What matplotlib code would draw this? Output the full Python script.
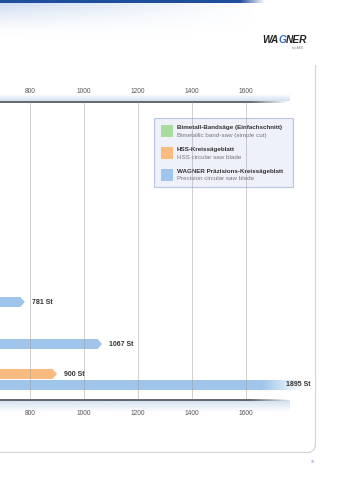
import numpy as np
import matplotlib.pyplot as plt
from matplotlib.patches import FancyBboxPatch, Rectangle
from matplotlib.collections import LineCollection

plt.rcParams['font.family'] = ['Liberation Sans', 'DejaVu Sans']

# Werte (Stück), sichtbarer Ausschnitt
bar_values = [781, 1067, 900, 1895]
bar_labels = ['781 St', '1067 St', '900 St', '1895 St']
bar_kinds = ['wagner', 'wagner', 'hss', 'wagner']
ticks = [800, 1000, 1200, 1400, 1600]

legend_de = ['Bimetall-Bandsäge (Einfachschnitt)', 'HSS-Kreissägeblatt',
             'WAGNER Präzisions-Kreissägeblatt']
legend_en = ['Bimetallic band-saw (simple cut)', 'HSS circular saw blade',
             'Precision circular saw blade']

colors = {'bimetall': '#a9dc9f', 'hss': '#f9bc80', 'wagner': '#9fc6ea'}
legend_colors = [colors['bimetall'], colors['hss'], colors['wagner']]

W, H = 339, 480
fig = plt.figure(figsize=(W / 100, H / 100), dpi=100)

# Hintergrund-Achse in Pixelkoordinaten
bg = fig.add_axes([0, 0, 1, 1])
bg.axis('off')


def rgb(h):
    h = h.lstrip('#')
    return [int(h[i:i + 2], 16) / 255 for i in (0, 2, 4)]


def hgrad(ax, x0, x1, y0, y1, col, a0, a1, z=1, vertical=False):
    n = 256
    a = np.linspace(a0, a1, n)
    if vertical:
        img = np.zeros((n, 1, 4))
        img[..., 3] = a[:, None]
    else:
        img = np.zeros((1, n, 4))
        img[..., 3] = a
    img[..., :3] = col
    ax.imshow(img, extent=[x0, x1, y1, y0], aspect='auto', zorder=z,
              interpolation='bilinear')


def fade_line(ax, x0, xs, x1, y, col, lw, z=3):
    # Linie bis xs voll, danach ausblenden
    xx = np.linspace(x0, x1, 120)
    segs = [[(xx[i], y), (xx[i + 1], y)] for i in range(len(xx) - 1)]
    mid = (xx[:-1] + xx[1:]) / 2
    alpha = np.clip((x1 - mid) / (x1 - xs), 0, 1)
    cols = [(*rgb(col), a) for a in alpha]
    ax.add_collection(LineCollection(segs, colors=cols, linewidths=lw,
                                     zorder=z, capstyle='butt'))


# Kopfband
n = 200
img = np.zeros((n, n, 4))
img[..., :3] = rgb('#c9d9ef')
xx, yy = np.meshgrid(np.linspace(0, 1, n), np.linspace(0, 1, n))
img[..., 3] = np.clip(1 - yy, 0, 1) ** 1.5 * np.clip(1 - xx * 1.1, 0, 1) * 0.9
bg.imshow(img, extent=[0, 280, 36, 3], aspect='auto', zorder=1)
bg.add_patch(Rectangle((0, 0), 240, 3, color='#1f4f9c', lw=0, zorder=2))
hgrad(bg, 240, 265, 0, 3, rgb('#1f4f9c'), 1, 0, z=2)

# Logo
t1 = bg.text(262, 43, 'WA', fontsize=7.3, fontweight='bold', style='italic',
             color='#222222', ha='left', va='baseline')
t2 = bg.annotate('G', xy=(1, 0), xycoords=t1, fontsize=7.3,
                 fontweight='bold', style='italic', color='#2a6cc8',
                 ha='left', va='bottom')
bg.annotate('NER', xy=(1, 0), xycoords=t2, fontsize=7.3, fontweight='bold',
            style='italic', color='#222222', ha='left', va='bottom')
bg.text(304, 48.5, 'by AKE', fontsize=2.5, color='#888888', ha='right')

# Rahmen rechts unten
bg.plot([315, 315], [65, 446], color='#d4d4d4', lw=0.8, zorder=2)
t = np.linspace(0, np.pi / 2, 20)
bg.plot(309 + 6 * np.cos(t), 446 + 6 * np.sin(t), color='#d4d4d4', lw=0.8)
bg.plot([0, 309], [452, 452], color='#d4d4d4', lw=0.8, zorder=2)
bg.text(313, 463, '15', fontsize=2.5, color='#5a7fbf', ha='center')

# Achsenlinien mit Schattierung
hgrad(bg, 0, 290, 94, 101, rgb('#d3dff0'), 0, 1, z=1, vertical=True)
hgrad(bg, 0, 290, 400, 412, rgb('#d3dff0'), 1, 0, z=1, vertical=True)
fade_line(bg, 0, 250, 288, 101.5, '#4a4d55', 1.2)
fade_line(bg, 0, 250, 288, 399.5, '#4a4d55', 1.2)

bg.set_xlim(0, W)
bg.set_ylim(H, 0)

# Diagramm-Achse
px0, px1, py0, py1 = 0, 315, 102, 399
ax = fig.add_axes([px0 / W, 1 - py1 / H, (px1 - px0) / W, (py1 - py0) / H])
ax.patch.set_alpha(0)
scale = 0.27
xmin = 800 - 30 / scale
xmax = 800 + (px1 - 30) / scale
ax.axis('off')

for tk in ticks:
    ax.axvline(tk, color='#9a9a9a', lw=0.6, alpha=0.55, zorder=5)
    bg.text(30 + (tk - 800) * scale, 93, str(tk), fontsize=4.8,
            color='#555555', ha='center', va='baseline')
    bg.text(30 + (tk - 800) * scale, 415, str(tk), fontsize=4.8,
            color='#555555', ha='center', va='baseline')

bar_y = [302, 344, 374, 385]
bh = 10
tip = 4.5 / scale
for v, lab, kind, yc in zip(bar_values, bar_labels, bar_kinds, bar_y):
    c = colors[kind]
    if v < xmax:
        xs = [xmin, v - tip, v, v - tip, xmin]
        ys = [yc - bh / 2, yc - bh / 2, yc, yc + bh / 2, yc + bh / 2]
        ax.fill(xs, ys, color=c, lw=0, zorder=2)
        ax.text(v + 7 / scale, yc, lab, fontsize=5, fontweight='bold',
                color='#333333', ha='left', va='center', zorder=6)
    else:
        ax.fill([xmin, v, v, xmin],
                [yc - bh / 2, yc - bh / 2, yc + bh / 2, yc + bh / 2],
                color=c, lw=0, zorder=2)
        f0 = 800 + (262 - 30) / scale
        f1 = 800 + (302 - 30) / scale
        hgrad(ax, f0, f1, yc - bh / 2, yc + bh / 2, (1, 1, 1), 0, 1, z=3)
        ax.add_patch(Rectangle((f1, yc - bh / 2), xmax - f1, bh,
                               color='white', lw=0, zorder=3))
        ax.text(800 + (311 - 30) / scale, yc, lab, fontsize=5,
                fontweight='bold', color='#333333', ha='right', va='center',
                zorder=6)
ax.set_xlim(xmin, xmax)
ax.set_ylim(py1, py0)

# Legende
box = FancyBboxPatch((154, 118), 139, 69, boxstyle='square,pad=0',
                     facecolor='#eef0fa', edgecolor='#b9c6e3', lw=0.8,
                     zorder=10)
bg.add_patch(box)
for i, (de, en, c) in enumerate(zip(legend_de, legend_en, legend_colors)):
    ytop = [125, 147, 168.5][i]
    bg.add_patch(Rectangle((161, ytop), 12, 12, color=c, lw=0, zorder=11))
    bg.text(177, ytop + 4.2, de, fontsize=4.5, fontweight='bold',
            color='#333333', ha='left', va='baseline', zorder=11)
    bg.text(177, ytop + 11.8, en, fontsize=4.5, color='#777777',
            ha='left', va='baseline', zorder=11)

fig.savefig('out.png', dpi=100)
